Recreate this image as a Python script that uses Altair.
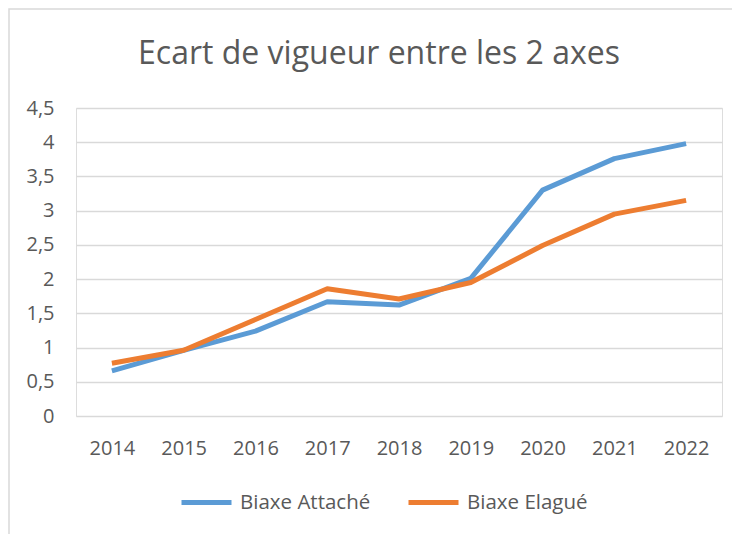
import altair as alt
import pandas as pd

years = ["2014", "2015", "2016", "2017", "2018", "2019", "2020", "2021", "2022"]
attache = [0.66, 0.96, 1.24, 1.67, 1.62, 2.01, 3.30, 3.76, 3.98]
elague = [0.77, 0.96, 1.41, 1.86, 1.71, 1.95, 2.49, 2.95, 3.15]
series = ["Biaxe Attaché", "Biaxe Elagué"]
colors = ["#5B9BD5", "#ED7D31"]
y_ticks = [0, 0.5, 1, 1.5, 2, 2.5, 3, 3.5, 4, 4.5]

rows = []
for name, vals in zip(series, [attache, elague]):
    for yr, v in zip(years, vals):
        rows.append({"Année": yr, "Valeur": v, "Série": name})
df = pd.DataFrame(rows)

FONT = "Open Sans"
TXT = "#595959"

lines = alt.Chart(df).mark_line(strokeWidth=5, strokeJoin="round").encode(
    x=alt.X("Année:N", sort=years, title=None,
            scale=alt.Scale(type="point", padding=0.5),
            axis=alt.Axis(labelAngle=0, ticks=False, domain=False, grid=False,
                          labelFontSize=20, labelColor=TXT, labelFont=FONT,
                          labelPadding=22)),
    y=alt.Y("Valeur:Q", title=None,
            scale=alt.Scale(domain=[0, 4.5], nice=False),
            axis=alt.Axis(values=y_ticks, ticks=False, domain=False,
                          gridColor="#D9D9D9", gridWidth=1.5,
                          labelFontSize=20, labelColor=TXT, labelFont=FONT,
                          labelPadding=22,
                          labelExpr="replace(format(datum.value, '~g'), '.', ',')")),
    color=alt.Color("Série:N", sort=series,
                    scale=alt.Scale(domain=series, range=colors),
                    legend=alt.Legend(title=None, orient="none", direction="horizontal",
                                      legendX=103, legendY=367,
                                      symbolType="stroke", symbolSize=2500,
                                      symbolStrokeWidth=5, labelFontSize=20.5,
                                      labelFont=FONT, labelColor=TXT,
                                      labelOffset=6, columnPadding=27)),
)

border = alt.Chart(alt.Data(values=[{}])).mark_rect(
    fillOpacity=0, stroke="#D9D9D9", strokeWidth=1.5
).encode(
    x=alt.value(-67), x2=alt.value(700), y=alt.value(-99), y2=alt.value(480)
)

chart = alt.layer(border, lines).properties(
    width=646, height=308,
    title=alt.TitleParams("Ecart de vigueur entre les 2 axes", fontSize=32,
                          font=FONT, color=TXT, fontWeight="normal",
                          anchor="middle", dx=-20, offset=-88,
                          baseline="alphabetic"),
    autosize=alt.AutoSizeParams(type="none"),
    padding={"left": 68, "top": 100, "right": 10, "bottom": 118},
).configure_view(stroke=None).configure(background="white")

chart.save("out.html", embed_options={"renderer": "svg", "actions": False})
